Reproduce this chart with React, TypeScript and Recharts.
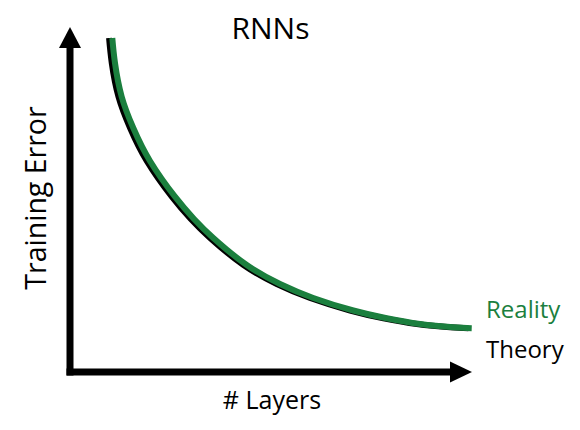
import React from "react";
import { LineChart, Line, XAxis, YAxis, ReferenceLine } from "recharts";

// Layers (x) and training error (y)
const realityLayers = [10.52, 11.19, 12.86, 15.75, 19.9, 26.12, 30.85, 35.65, 43.96, 52.24, 60.52, 70.47, 78.78, 87.06, 95.35, 99.93];
const realityError = [96.81, 89.57, 79.8, 70.72, 61.16, 50.81, 44.35, 38.84, 31.01, 25.51, 21.45, 17.83, 15.57, 13.91, 12.96, 12.67];
const theoryLayers = [9.72, 10.39, 12.06, 14.95, 19.1, 25.32, 30.05, 34.85, 43.16, 51.44, 59.72, 69.67, 77.98, 86.26, 94.55, 99.1];
const theoryError = [96.81, 89.57, 79.8, 70.72, 61.16, 50.81, 44.35, 38.84, 31.01, 25.51, 21.45, 17.83, 15.57, 13.91, 12.96, 12.67];

const seriesNames = ["Reality", "Theory"];
const axisTitles = ["# Layers", "Training Error"];
const chartTitle = "RNNs";

const GREEN = "#1b7f3e";
const FONT = "'Open Sans', sans-serif";

const realityData = realityLayers.map((x, i) => ({ x, y: realityError[i] }));
const theoryData = theoryLayers.map((x, i) => ({ x, y: theoryError[i] }));

const ArrowY = (p: any) => {
  const { x1, y1, y2 } = p;
  const bottom = Math.max(y1, y2);
  const top = Math.min(y1, y2);
  return (
    <g>
      <line x1={x1} y1={bottom + 3.5} x2={x1} y2={top + 20} stroke="#000" strokeWidth={7} />
      <polygon points={`${x1 - 11},${top + 21} ${x1 + 11},${top + 21} ${x1},${top}`} fill="#000" />
    </g>
  );
};

const ArrowX = (p: any) => {
  const { x1, x2, y1 } = p;
  const left = Math.min(x1, x2);
  const right = Math.max(x1, x2);
  return (
    <g>
      <line x1={left - 3.5} y1={y1} x2={right - 20} y2={y1} stroke="#000" strokeWidth={7} />
      <polygon points={`${right - 22},${y1 - 10.5} ${right - 22},${y1 + 10.5} ${right},${y1}`} fill="#000" />
    </g>
  );
};

export default function App() {
  return (
    <div style={{ position: "absolute", left: 0, top: 0, width: 580, height: 430, background: "#fff" }}>
      <LineChart
        width={580}
        height={430}
        margin={{ top: 27, right: 108, bottom: 58, left: 70 }}
      >
        <XAxis type="number" dataKey="x" domain={[0, 100]} hide allowDataOverflow />
        <YAxis type="number" dataKey="y" domain={[0, 100]} hide allowDataOverflow />
        <ReferenceLine
          segment={[{ x: 0, y: 0 }, { x: 0, y: 100 }]}
          ifOverflow="visible"
          shape={ArrowY}
        />
        <ReferenceLine
          segment={[{ x: 0, y: 0 }, { x: 100, y: 0 }]}
          ifOverflow="visible"
          shape={ArrowX}
        />
        <Line
          data={theoryData}
          dataKey="y"
          type="natural"
          stroke="#000"
          strokeWidth={6}
          dot={false}
          activeDot={false}
          isAnimationActive={false}
          name={seriesNames[1]}
        />
        <Line
          data={realityData}
          dataKey="y"
          type="natural"
          stroke={GREEN}
          strokeWidth={6}
          dot={false}
          activeDot={false}
          isAnimationActive={false}
          name={seriesNames[0]}
        />
      </LineChart>
      <svg
        width={580}
        height={430}
        style={{ position: "absolute", left: 0, top: 0, pointerEvents: "none" }}
      >
        <text x={270.5} y={39} textAnchor="middle" fontFamily={FONT} fontSize={30} fill="#000">
          {chartTitle}
        </text>
        <text x={272} y={409} textAnchor="middle" fontFamily={FONT} fontSize={25} fill="#000">
          {axisTitles[0]}
        </text>
        <text
          x={46}
          y={198}
          textAnchor="middle"
          fontFamily={FONT}
          fontSize={28.5}
          fill="#000"
          transform="rotate(-90 46 198)"
        >
          {axisTitles[1]}
        </text>
        <text x={486} y={318} fontFamily={FONT} fontSize={24} fill={GREEN}>
          {seriesNames[0]}
        </text>
        <text x={486} y={358} fontFamily={FONT} fontSize={24} fill="#000">
          {seriesNames[1]}
        </text>
      </svg>
    </div>
  );
}
